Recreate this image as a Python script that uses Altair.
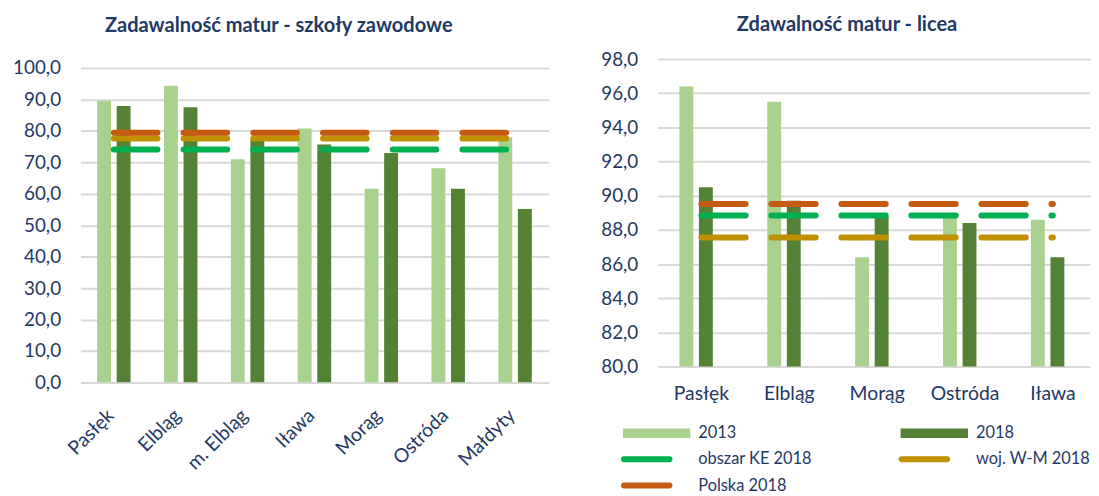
import altair as alt
import pandas as pd

# ---------------- data ----------------
left_categories = ["Pasłęk", "Elbląg", "m. Elbląg", "Iława", "Morąg", "Ostróda", "Małdyty"]
left_2013 = [89.6, 94.4, 71.0, 80.8, 61.6, 68.1, 78.0]
left_2018 = [87.9, 87.5, 77.5, 75.7, 73.0, 61.6, 55.2]
left_obszar_ke = 74.1
left_woj_wm = 77.6
left_polska = 79.4

right_categories = ["Pasłęk", "Elbląg", "Morąg", "Ostróda", "Iława"]
right_2013 = [96.4, 95.5, 86.4, 88.8, 88.6]
right_2018 = [90.5, 89.7, 88.8, 88.4, 86.4]
right_obszar_ke = 88.84
right_woj_wm = 87.55
right_polska = 89.52

series_domain = ["2013", "2018", "obszar KE 2018", "woj. W-M 2018", "Polska 2018"]
series_colors = ["#A9D18E", "#548235", "#00B050", "#BF9000", "#C55A11"]
line_series = ["obszar KE 2018", "woj. W-M 2018", "Polska 2018"]

NAVY = "#1F3864"
FONT = "Lato"

# legend symbol shapes (unit = sqrt(symbolSize)/2 = 10 px; box left edge at x=-1)
RECT = "M-1,-0.475H5.8V0.475H-1Z"
CAPS = "M-0.9,-0.3H3.7A0.3,0.3,0,0,1,3.7,0.3H-0.9A0.3,0.3,0,0,1,-0.9,-0.3Z"
shape_paths = [RECT, RECT, CAPS, CAPS, CAPS]


def make_frames(cats, v13, v18, line_vals):
    rows = []
    for i, c in enumerate(cats):
        rows.append({"category": c, "series": "2013", "value": v13[i], "idx": i})
        rows.append({"category": c, "series": "2018", "value": v18[i], "idx": i})
    bars_df = pd.DataFrame(rows)
    lrows = []
    for s, v in zip(line_series, line_vals):
        for i, c in enumerate(cats):
            lrows.append({"category": c, "series": s, "value": v, "idx": i})
    lines_df = pd.DataFrame(lrows)
    return bars_df, lines_df


def panel(cats, v13, v18, line_vals, ydomain, yvalues, width, height, xscale, dash,
          label_angle, label_padding, title, title_dx, title_offset, offset_pad,
          with_legend):
    bars_df, lines_df = make_frames(cats, v13, v18, line_vals)
    x = alt.X(
        "category:N", sort=cats, scale=xscale,
        axis=alt.Axis(title=None, labelAngle=label_angle, labelPadding=label_padding,
                      labelAlign="right" if label_angle else "center",
                      labelBaseline="middle" if label_angle else "top",
                      labelOffset=-3 if label_angle else 0,
                      labelFontSize=19.5,
                      labelLimit=300, grid=False, domain=False, ticks=False),
    )
    y = alt.Y(
        "value:Q",
        scale=alt.Scale(domain=ydomain, zero=False, nice=False),
        axis=alt.Axis(title=None, values=yvalues, grid=True, domain=False, ticks=False,
                      labelPadding=20, labelFontSize=19,
                      labelExpr="replace(format(datum.value, '.1f'), '.', ',')"),
    )
    cscale = alt.Scale(domain=series_domain, range=series_colors)
    bars = alt.Chart(bars_df).mark_bar(clip=True).encode(
        x=x, y=y,
        xOffset=alt.XOffset("series:N", sort=["2013", "2018"],
                            scale=alt.Scale(paddingInner=offset_pad, paddingOuter=0)),
        color=alt.Color("series:N", scale=cscale, legend=None),
    )
    lines = alt.Chart(lines_df).mark_line(
        strokeWidth=6, strokeCap="round", strokeDash=dash
    ).encode(
        x=x, y=y,
        color=alt.Color("series:N", scale=cscale, legend=None),
        detail="series:N",
        order=alt.Order("idx:Q"),
    )
    layers = [bars, lines]
    if with_legend:
        leg = alt.Legend(
            title=None, orient="none", direction="horizontal",
            legendX=-35, legendY=367, columns=2,
            columnPadding=87, rowPadding=7.5, symbolSize=400, labelOffset=56,
            labelFont=FONT, labelFontSize=16.5, labelColor=NAVY,
            symbolStrokeWidth=0, symbolOpacity=1, padding=0, labelLimit=300,
        )
        legend_layer = alt.Chart(lines_df).transform_filter("false").mark_point(
            filled=True
        ).encode(
            x=x, y=y,
            color=alt.Color("series:N", scale=cscale, legend=leg),
            shape=alt.Shape("series:N",
                            scale=alt.Scale(domain=series_domain, range=shape_paths),
                            legend=leg),
        )
        layers = [legend_layer] + layers
    out = alt.layer(*layers).properties(
        width=width, height=height,
        title=alt.TitleParams(title, font=FONT, fontSize=20.2, fontWeight="bold",
                              color=NAVY, dx=title_dx, offset=title_offset,
                              anchor="middle"),
    )
    if with_legend:
        out = out.resolve_legend(color="independent", shape="independent")
    return out


left = panel(left_categories, left_2013, left_2018,
             [left_obszar_ke, left_woj_wm, left_polska],
             [0, 102.84], list(range(0, 101, 10)), 472, 326,
             alt.Scale(paddingInner=0.5, paddingOuter=0.25), [44, 26.3],
             -45, 30, "Zadawalność matur - szkoły zawodowe", -36, 23.5, 0.29, False)

right = panel(right_categories, right_2013, right_2018,
              [right_obszar_ke, right_woj_wm, right_polska],
              [80, 98], list(range(80, 99, 2)), 436, 310,
              alt.Scale(paddingInner=0.5, paddingOuter=0.21, align=0.59), [44.7, 25.9],
              0, 18, "Zdawalność matur - licea", -27, 15, 0.23, True)

chart = alt.hconcat(left, right, spacing=110, bounds="flush").resolve_scale(
    color="independent", shape="independent"
).properties(
    padding={"left": 4, "top": 4.5, "right": 0, "bottom": 0}
).configure_view(strokeWidth=0).configure_axis(
    labelFont=FONT, labelColor=NAVY,
    gridColor="#D9D9D9", gridWidth=2,
)

chart.save("out.html", embed_options={"renderer": "svg", "actions": False})
